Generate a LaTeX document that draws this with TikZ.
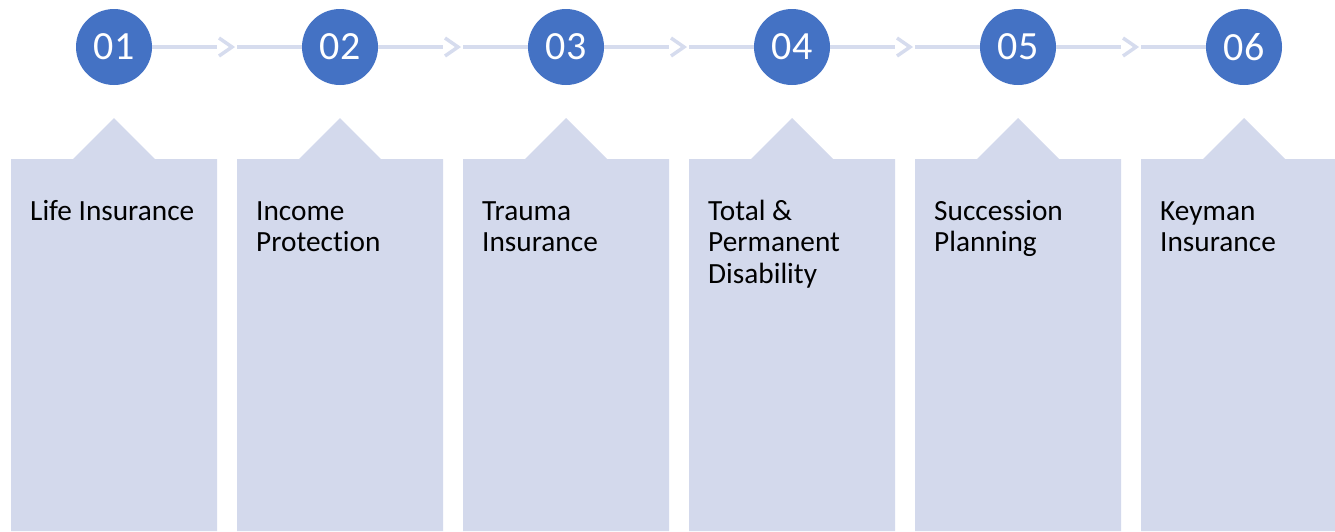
\documentclass[tikz,border=0pt]{standalone}
\usepackage{fontspec}
\setmainfont[Ligatures=NoCommon]{Carlito}
\definecolor{stepblue}{RGB}{68,114,196}
\definecolor{panelblue}{RGB}{211,217,236}
\definecolor{linkblue}{RGB}{214,220,238}
\begin{document}
\begin{tikzpicture}[x=1pt, y=-1pt,
    num/.style={circle, fill=stepblue, minimum size=76pt, inner sep=0pt,
                text=white, font=\fontsize{40}{40}\selectfont},
    link/.style={draw=linkblue, line width=3.5pt},
    panel/.style={fill=panelblue},
    label/.style={anchor=north west, inner sep=0pt, align=left,
                  font=\fontsize{29.3}{31.5}\selectfont}]

                  \useasboundingbox (0, 0) rectangle (1335, 531);

                  % panels
                  \fill[panel] (11, 159) -- (73, 159) -- (114, 118) -- (155, 159) -- (217, 159) -- (217, 531) -- (11, 531) -- cycle;
                  \fill[panel] (237, 159) -- (299, 159) -- (340, 118) -- (381, 159) -- (443, 159) -- (443, 531) -- (237, 531) -- cycle;
                  \fill[panel] (463, 159) -- (525, 159) -- (566, 118) -- (607, 159) -- (669, 159) -- (669, 531) -- (463, 531) -- cycle;
                  \fill[panel] (689, 159) -- (751, 159) -- (792, 118) -- (833, 159) -- (895, 159) -- (895, 531) -- (689, 531) -- cycle;
                  \fill[panel] (915, 159) -- (977, 159) -- (1018, 118) -- (1059, 159) -- (1121, 159) -- (1121, 531) -- (915, 531) -- cycle;
                  \fill[panel] (1141, 159) -- (1203, 159) -- (1244, 118) -- (1285, 159) -- (1347, 159) -- (1347, 531) -- (1141, 531) -- cycle;

                     \node[label] (life) at (30, 198) {\strut Life Insurance};
                     \node[label] (income) at (256, 198) {\strut Income\\Protection};
                     \node[label] (trauma) at (482, 198) {\strut Trauma\\Insurance};
                     \node[label] (tpd) at (708, 198) {\strut Total \&\\Permanent\\Disability};
                     \node[label] (succession) at (934, 198) {\strut Succession\\Planning};
                     \node[label] (keyman) at (1160, 198) {\strut Keyman\\Insurance};

                  % steps
                  \node[num] (c1) at (114, 47) {01};
                  \node[num] (c2) at (340, 47) {02};
                  \node[num] (c3) at (566, 47) {03};
                  \node[num] (c4) at (792, 47) {04};
                  \node[num] (c5) at (1018, 47) {05};
                  \node[num] (c6) at (1244, 47) {06};

                  \coordinate (a1) at (217, 47);   \coordinate (b1) at (237, 47);
                  \coordinate (a2) at (443, 47);   \coordinate (b2) at (463, 47);
                  \coordinate (a3) at (669, 47);   \coordinate (b3) at (689, 47);
                  \coordinate (a4) at (895, 47);   \coordinate (b4) at (915, 47);
                  \coordinate (a5) at (1121, 47);  \coordinate (b5) at (1141, 47);

                   \draw[link] (c1) -- (a1);  \draw[link] (b1) -- (c2);
                   \draw[link] ([shift={(2, -9)}]a1) -- ([shift={(15, 0)}]a1) -- ([shift={(2, 9)}]a1);
                   \draw[link] (c2) -- (a2);  \draw[link] (b2) -- (c3);
                   \draw[link] ([shift={(2, -9)}]a2) -- ([shift={(15, 0)}]a2) -- ([shift={(2, 9)}]a2);
                   \draw[link] (c3) -- (a3);  \draw[link] (b3) -- (c4);
                   \draw[link] ([shift={(2, -9)}]a3) -- ([shift={(15, 0)}]a3) -- ([shift={(2, 9)}]a3);
                   \draw[link] (c4) -- (a4);  \draw[link] (b4) -- (c5);
                   \draw[link] ([shift={(2, -9)}]a4) -- ([shift={(15, 0)}]a4) -- ([shift={(2, 9)}]a4);
                   \draw[link] (c5) -- (a5);  \draw[link] (b5) -- (c6);
                   \draw[link] ([shift={(2, -9)}]a5) -- ([shift={(15, 0)}]a5) -- ([shift={(2, 9)}]a5);

\end{tikzpicture}
\end{document}
